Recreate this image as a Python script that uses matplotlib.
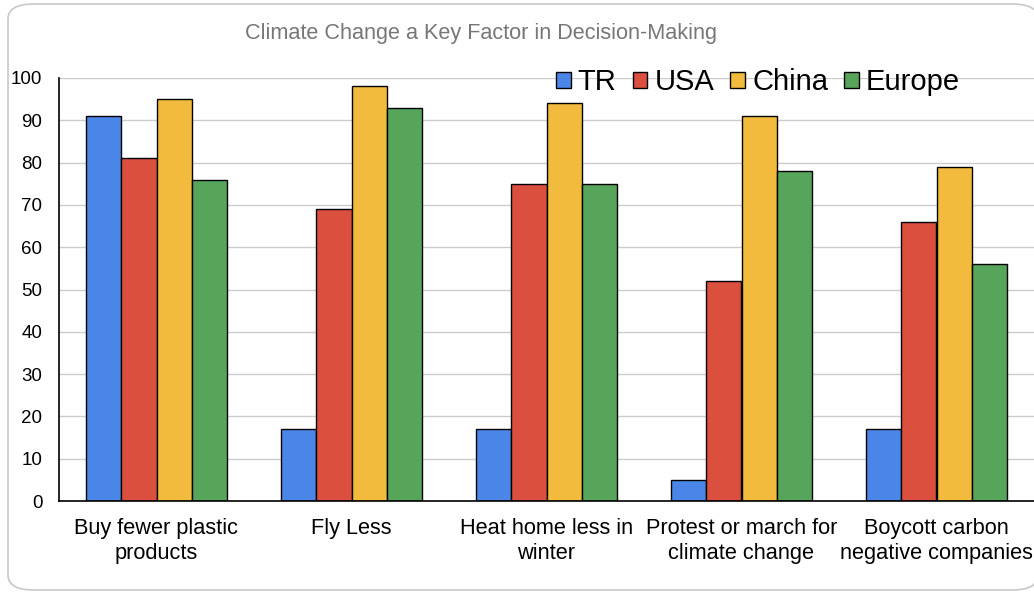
import matplotlib.pyplot as plt
import numpy as np
from matplotlib.patches import FancyBboxPatch

plt.rcParams['font.family'] = ['Liberation Sans', 'DejaVu Sans']

# survey results (% saying climate change is a key factor)
actions = ['Buy fewer plastic\nproducts', 'Fly Less', 'Heat home less in\nwinter',
           'Protest or march for\nclimate change', 'Boycott carbon\nnegative companies']
regions = ['TR', 'USA', 'China', 'Europe']
tr = [91, 17, 17, 5, 17]
usa = [81, 69, 75, 52, 66]
china = [95, 98, 94, 91, 79]
europe = [76, 93, 75, 78, 56]
colors = ['#4a86e8', '#db4f3f', '#f2bb3d', '#57a55b']

fig = plt.figure(figsize=(10.34, 5.97), dpi=100)

# rounded card behind the chart
card = FancyBboxPatch((8 / 1034, 7 / 597), 1030 / 1034, 586 / 597,
                      boxstyle='round,pad=0,rounding_size=0.025',
                      transform=fig.transFigure, facecolor='white',
                      edgecolor='#c8c8c8', linewidth=1.2, zorder=-1)
fig.patches.append(card)

ax = fig.add_axes([59 / 1034, 1 - 501 / 597, 1 - 59 / 1034, 423 / 597])
ax.set_facecolor('none')

x = np.arange(len(actions))
w = 0.182
series = [tr, usa, china, europe]
for i, (vals, name, c) in enumerate(zip(series, regions, colors)):
    ax.bar(x + (i - 1.5) * w, vals, w, color=c, edgecolor='black',
           linewidth=1, label=name, zorder=3)

ax.set_xlim(-0.5, 4.5)
ax.set_ylim(0, 100)
ax.set_yticks(range(0, 101, 10))
ax.set_xticks(x)
ax.set_xticklabels(actions, fontsize=15.7, linespacing=1.25)
ax.tick_params(axis='y', labelsize=13.5, length=0, pad=12)
ax.tick_params(axis='x', length=0, pad=12)
ax.grid(axis='y', color='#cccccc', linewidth=1, zorder=0)

for s in ['top', 'right']:
    ax.spines[s].set_visible(False)
for s in ['left', 'bottom']:
    ax.spines[s].set_color('black')
    ax.spines[s].set_linewidth(1.2)
    ax.spines[s].set_zorder(4)

ax.legend(loc='center', bbox_to_anchor=(0.717, 0.99), ncol=4, frameon=False,
          fontsize=21, handlelength=0.5, handleheight=0.5, handletextpad=0.25,
          columnspacing=0.55, borderaxespad=0)

fig.text(481 / 1034, 1 - 34 / 597, 'Climate Change a Key Factor in Decision-Making',
         ha='center', va='center', fontsize=15.6, color='#777777')

fig.savefig('out.png', dpi=100)
